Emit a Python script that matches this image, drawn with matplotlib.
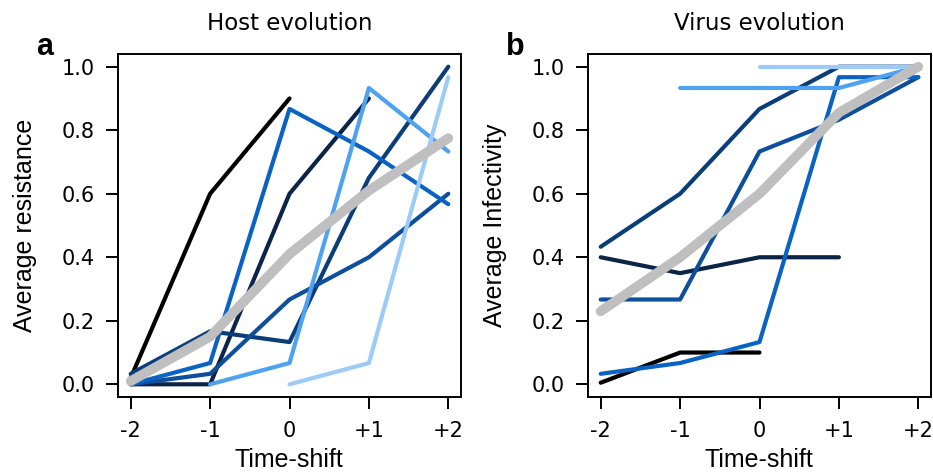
import numpy as np
import matplotlib
matplotlib.use('Agg')
import matplotlib.pyplot as plt

# time shifts and tick labels
shifts = [-2, -1, 0, 1, 2]
shift_labels = ['-2', '-1', '0', '+1', '+2']
y_ticks = [0.0, 0.2, 0.4, 0.6, 0.8, 1.0]

# host evolution (average resistance), one list per line, None = no value
host_black = [0.02, 0.60, 0.90, None, None]
host_vdark = [0.0, 0.0, 0.60, 0.90, None]
host_dark = [0.033, 0.167, 0.133, 0.65, 1.0]
host_blue = [0.0, 0.033, 0.267, 0.40, 0.60]
host_mid = [0.0, 0.067, 0.867, 0.733, 0.567]
host_light = [None, 0.0, 0.067, 0.933, 0.733]
host_lightest = [None, None, 0.0, 0.067, 0.967]
host_mean = [0.01, 0.15, 0.41, 0.61, 0.775]

# virus evolution (average infectivity)
virus_black = [0.005, 0.10, 0.10, None, None]
virus_vdark = [0.40, 0.35, 0.40, 0.40, None]
virus_dark = [0.433, 0.60, 0.867, 1.0, 1.0]
virus_blue = [0.267, 0.267, 0.733, 0.833, 0.967]
virus_mid = [0.033, 0.067, 0.133, 0.967, 0.967]
virus_light = [None, 0.933, 0.933, 0.933, 1.0]
virus_lightest = [None, None, 1.0, 1.0, 1.0]
virus_mean = [0.23, 0.40, 0.60, 0.855, 1.0]

line_colors = ['#000000', '#0b2447', '#0b3d78', '#0d4f9c', '#0a63c4', '#4ea2ef', '#9ccbf7']
mean_color = '#bfbfbf'

W, H = 933, 475
fig = plt.figure(figsize=(W / 100, H / 100), dpi=100)


def px(x, y):
    return x / W, 1 - y / H


def panel(left, lines, mean, title, ylabel, letter):
    ax = fig.add_axes([left / W, (H - 397) / H, 343 / W, 343 / H])
    for vals, col in zip(lines, line_colors):
        xs = [s for s, v in zip(shifts, vals) if v is not None]
        ys = [v for v in vals if v is not None]
        ax.plot(xs, ys, color=col, lw=3.0, solid_capstyle='round', solid_joinstyle='round')
    ax.plot(shifts, mean, color=mean_color, lw=7, solid_capstyle='round', solid_joinstyle='round')
    ax.set_xlim(-2.16, 2.16)
    ax.set_ylim(-0.04, 1.04)
    ax.set_xticks(shifts)
    ax.set_xticklabels(shift_labels)
    ax.set_yticks(y_ticks)
    ax.set_yticklabels(['%.1f' % v for v in y_ticks])
    ax.tick_params(axis='x', length=8.6, width=1.4, pad=9, labelsize=15)
    ax.tick_params(axis='y', length=8.6, width=1.4, pad=8, labelsize=15)
    for sp in ax.spines.values():
        sp.set_linewidth(1.4)
    ax.set_title(title, fontsize=16.5, pad=17)
    # axis labels in an Arial-like face
    fig.text(*px(left + 171, 467), 'Time-shift', ha='center', va='baseline',
             fontsize=18, family='Liberation Sans')
    fig.text(*px(left - 93, 225), ylabel, ha='center', va='center', rotation=90,
             fontsize=18, family='Liberation Sans')
    fig.text(*px(left - 82, 55), letter, ha='left', va='baseline',
             fontsize=22, fontweight='bold', family='Liberation Sans')
    return ax


panel(118, [host_black, host_vdark, host_dark, host_blue, host_mid, host_light, host_lightest],
      host_mean, 'Host evolution', 'Average resistance', 'a')
panel(588, [virus_black, virus_vdark, virus_dark, virus_blue, virus_mid, virus_light, virus_lightest],
      virus_mean, 'Virus evolution', 'Average Infectivity', 'b')

fig.savefig('out.png', dpi=100)
